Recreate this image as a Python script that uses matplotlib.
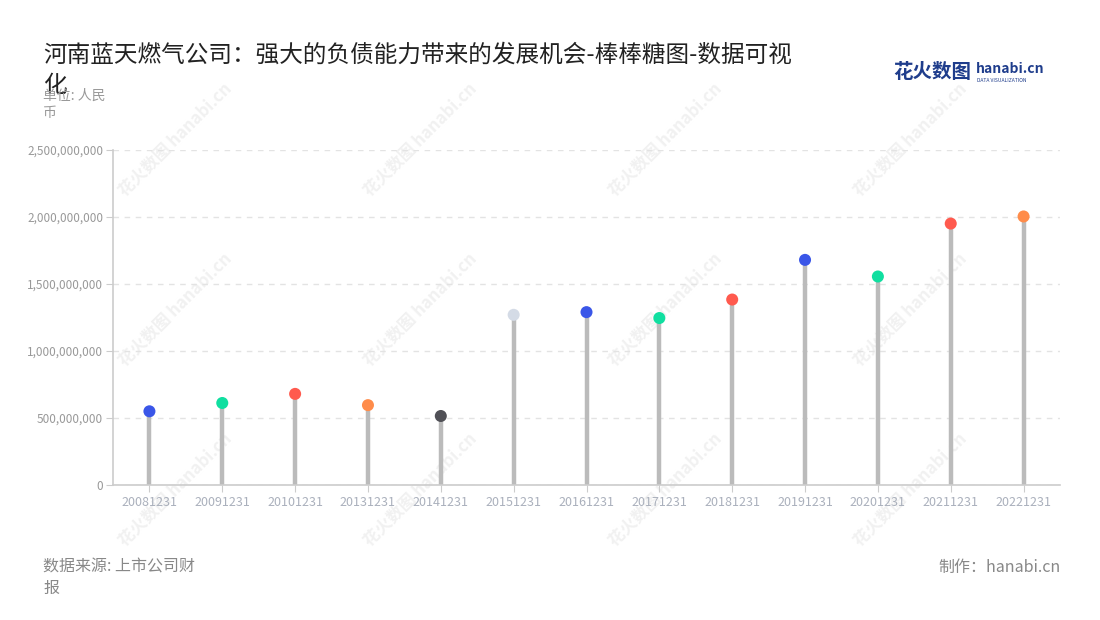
import matplotlib.pyplot as plt

plt.rcParams['font.family'] = ['Noto Sans CJK SC', 'DejaVu Sans']

# 数据
dates = ['20081231', '20091231', '20101231', '20131231', '20141231', '20151231', '20161231',
         '20171231', '20181231', '20191231', '20201231', '20211231', '20221231']
values = [550e6, 612e6, 680e6, 596e6, 515e6, 1270e6, 1290e6,
          1246e6, 1384e6, 1680e6, 1556e6, 1951e6, 2004e6]
dot_colors = ['#3a56e8', '#10dfa0', '#ff5a4e', '#ff8c4a', '#505056', '#d4dbe6', '#3a56e8',
              '#10dfa0', '#ff5a4e', '#3a56e8', '#10dfa0', '#ff5a4e', '#ff8c4a']
yticks = [0, 500e6, 1000e6, 1500e6, 2000e6, 2500e6]

fig = plt.figure(figsize=(11, 6.2), dpi=100)
ax = fig.add_axes([113/1100, 1-485/620, 947/1100, 335/620])

# 水印
for wx in [175, 420, 665, 910]:
    for wy in [140, 310, 490]:
        fig.text(wx/1100, 1-wy/620, '花火数图 hanabi.cn', rotation=45, fontsize=12, color='#f1f1f1',
                 ha='center', va='center', fontweight='bold', zorder=-1)

x = list(range(len(dates)))
ax.vlines(x, 0, values, color='#bbbbbb', lw=3.2, zorder=2)
ax.scatter(x, values, s=75, c=dot_colors, zorder=3, linewidths=0)
ax.patch.set_alpha(0)

ax.set_xlim(-0.5, len(dates) - 0.5)
ax.set_ylim(0, 2500e6)
ax.set_yticks(yticks)
ax.set_yticklabels(['{:,}'.format(int(v)) for v in yticks], color='#999999', fontsize=8.5)
ax.set_xticks(x)
ax.set_xticklabels(dates, color='#aab0bc', fontsize=9)
ax.tick_params(axis='y', length=5, color='#cccccc', pad=2)
ax.tick_params(axis='x', length=5, color='#cccccc', pad=3)
ax.grid(axis='y', ls=(0, (4, 4)), color='#e3e3e3', lw=1)
ax.set_axisbelow(True)
for s in ['top', 'right']:
    ax.spines[s].set_visible(False)
ax.spines['left'].set_color('#cccccc')
ax.spines['bottom'].set_color('#cccccc')
ax.spines['left'].set_linewidth(1.2)
ax.spines['bottom'].set_linewidth(1.2)

fig.text(43/1100, 1-55/620, '河南蓝天燃气公司：强大的负债能力带来的发展机会-棒棒糖图-数据可视',
         fontsize=17, color='#222222', va='center')
fig.text(43/1100, 1-86/620, '化', fontsize=17, color='#222222', va='center')
fig.text(43/1100, 1-96/620, '单位: 人民', fontsize=10, color='#999999', va='center')
fig.text(43/1100, 1-113/620, '币', fontsize=10, color='#999999', va='center')

fig.text(43/1100, 1-567/620, '数据来源: 上市公司财', fontsize=11.5, color='#888888', va='center')
fig.text(43/1100, 1-588/620, '报', fontsize=11.5, color='#888888', va='center')
fig.text(1061/1100, 1-567/620, '制作：hanabi.cn', fontsize=11.5, color='#888888', va='center', ha='right')

# logo
fig.text(893/1100, 1-72/620, '花火数图', fontsize=14, color='#1f3d8c', fontweight='bold', va='center')
fig.text(976/1100, 1-69/620, 'hanabi.cn', fontsize=10, color='#1f3d8c', fontweight='bold', va='center')
fig.text(977/1100, 1-80/620, 'DATA VISUALIZATION', fontsize=3.6, color='#1f3d8c', va='center')

fig.savefig('out.png', dpi=100)
